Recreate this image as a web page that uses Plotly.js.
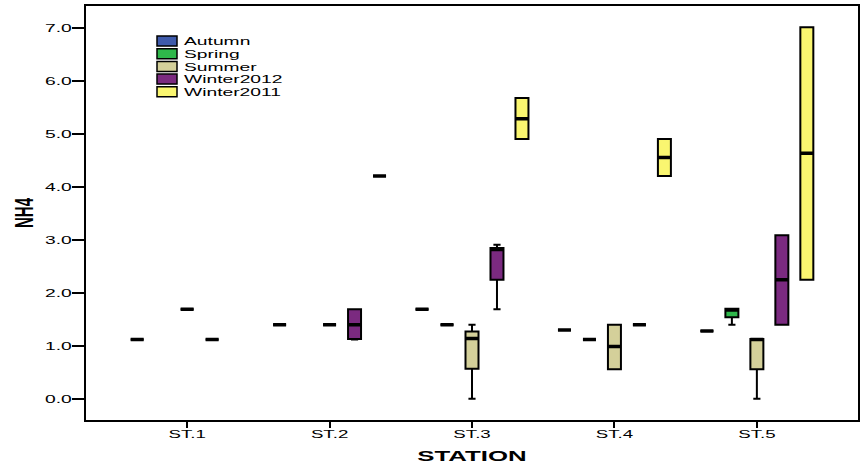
<!DOCTYPE html>
<html><head><meta charset="utf-8">
<script src="https://cdn.plot.ly/plotly-3.0.1.min.js"></script>
<style>html,body{margin:0;padding:0;background:#fff}#chart{width:862px;height:466px}</style>
</head><body><div id="chart"></div>
<script>
// Categories
var stations = ['ST.1', 'ST.2', 'ST.3', 'ST.4', 'ST.5'];
var seasons = ['Autumn', 'Spring', 'Summer', 'Winter2012', 'Winter2011'];
var colors = ['#3f5bab', '#2fb84b', '#d4d09a', '#7b2a80', '#faf670'];

// Box statistics per season, per station (null = no data)
var autumnLow = [1.12, 1.40, 1.69, 1.30, 1.28];
var autumnQ1  = [1.12, 1.40, 1.69, 1.30, 1.28];
var autumnMed = [1.12, 1.40, 1.69, 1.30, 1.28];
var autumnQ3  = [1.12, 1.40, 1.69, 1.30, 1.28];
var autumnUp  = [1.12, 1.40, 1.69, 1.30, 1.28];

var springLow = [null, null, 1.40, 1.12, 1.40];
var springQ1  = [null, null, 1.40, 1.12, 1.54];
var springMed = [null, null, 1.40, 1.12, 1.68];
var springQ3  = [null, null, 1.40, 1.12, 1.70];
var springUp  = [null, null, 1.40, 1.12, 1.70];

var summerLow = [1.69, 1.40, 0.00, 0.56, 0.00];
var summerQ1  = [1.69, 1.40, 0.57, 0.56, 0.56];
var summerMed = [1.69, 1.40, 1.14, 0.99, 1.12];
var summerQ3  = [1.69, 1.40, 1.27, 1.40, 1.13];
var summerUp  = [1.69, 1.40, 1.40, 1.40, 1.13];

var w2012Low = [1.12, 1.12, 1.69, 1.40, 1.40];
var w2012Q1  = [1.12, 1.13, 2.25, 1.40, 1.40];
var w2012Med = [1.12, 1.40, 2.82, 1.40, 2.25];
var w2012Q3  = [1.12, 1.69, 2.85, 1.40, 3.09];
var w2012Up  = [1.12, 1.69, 2.91, 1.40, 3.09];

var w2011Low = [null, 4.21, 4.91, 4.21, 2.25];
var w2011Q1  = [null, 4.21, 4.91, 4.21, 2.25];
var w2011Med = [null, 4.21, 5.29, 4.56, 4.64];
var w2011Q3  = [null, 4.21, 5.68, 4.91, 7.02];
var w2011Up  = [null, 4.21, 5.68, 4.91, 7.02];

var yTickVals = [0, 1, 2, 3, 4, 5, 6, 7];

var stats = [
  [autumnLow, autumnQ1, autumnMed, autumnQ3, autumnUp],
  [springLow, springQ1, springMed, springQ3, springUp],
  [summerLow, summerQ1, summerMed, summerQ3, summerUp],
  [w2012Low, w2012Q1, w2012Med, w2012Q3, w2012Up],
  [w2011Low, w2011Q1, w2011Med, w2011Q3, w2011Up]
];

var traces = [];
var medTraces = [];
seasons.forEach(function (name, i) {
  var s = stats[i];
  var idx = [];
  for (var k = 0; k < stations.length; k++) if (s[2][k] !== null) idx.push(k);
  function pick(a) { return idx.map(function (k) { return a[k]; }); }
  var xs = pick(stations);
  traces.push({
    type: 'box', name: name, x: xs,
    lowerfence: pick(s[0]), q1: pick(s[1]), median: pick(s[2]), q3: pick(s[3]), upperfence: pick(s[4]),
    fillcolor: colors[i], line: {color: '#000', width: 2}, whiskerwidth: 0.55,
    offsetgroup: name, boxpoints: false, hoverinfo: 'skip', showlegend: false
  });
  medTraces.push({
    type: 'box', name: name + ' median', x: xs, showlegend: false,
    lowerfence: pick(s[2]), q1: pick(s[2]), median: pick(s[2]), q3: pick(s[2]), upperfence: pick(s[2]),
    fillcolor: 'rgba(0,0,0,0)', line: {color: '#000', width: 3.5}, whiskerwidth: 0,
    offsetgroup: name, boxpoints: false, hoverinfo: 'skip'
  });
});

// plot area in pixels (for the hand-built legend placement)
var M = {l: 86, r: 4, t: 6, b: 46};
var W = 862, H = 466;
var pw = W - M.l - M.r, ph = H - M.t - M.b;
function px(x) { return (x - M.l) / pw; }
function py(y) { return 1 - (y - M.t) / ph; }

var shapes = [], annotations = [];
seasons.forEach(function (name, i) {
  var top = 36 + 12.7 * i;
  shapes.push({type: 'rect', xref: 'paper', yref: 'paper',
    x0: px(157), x1: px(177), y0: py(top + 10), y1: py(top),
    fillcolor: colors[i], line: {color: '#000', width: 1.5}});
  annotations.push({xref: 'paper', yref: 'paper', x: px(183), y: py(top + 5.3),
    xanchor: 'left', yanchor: 'middle', showarrow: false, text: name,
    font: {size: 11, color: '#000'}, borderpad: 0});
});

var layout = {
  width: W, height: H,
  margin: M,
  paper_bgcolor: '#fff', plot_bgcolor: '#fff',
  boxmode: 'group', boxgap: 0.123, boxgroupgap: 0.48,
  font: {family: 'Liberation Sans, Arial, sans-serif', color: '#000'},
  showlegend: false,
  shapes: shapes,
  annotations: annotations,
  xaxis: {
    type: 'category', categoryorder: 'array', categoryarray: stations,
    range: [-0.71, 4.71], showgrid: false, zeroline: false,
    showline: true, linecolor: '#000', linewidth: 2, mirror: true,
    ticks: 'outside', ticklen: 6, tickwidth: 2, tickcolor: '#000',
    tickfont: {size: 11}, ticklabelstandoff: -3,
    title: {text: 'STATION', font: {size: 15, weight: 'bold', family: 'Liberation Sans, Arial, sans-serif'}, standoff: 11}
  },
  yaxis: {
    range: [-0.40, 7.42], showgrid: false, zeroline: false,
    showline: true, linecolor: '#000', linewidth: 2, mirror: true,
    tickvals: yTickVals, tickformat: '.1f',
    ticks: 'outside', ticklen: 12, tickwidth: 2, tickcolor: '#000',
    tickfont: {size: 11}, ticklabelstandoff: -2,
    title: {text: 'NH4', font: {size: 25, weight: 'bold', family: 'Liberation Sans Narrow, Arial Narrow, Liberation Sans, sans-serif'}, standoff: 16}
  }
};

// the reference's lettering is horizontally widened: stretch glyphs via SVG textLength
function stretch(sel, factor, keepLeft) {
  document.querySelectorAll(sel).forEach(function (t) {
    var L = t.getComputedTextLength();
    if (keepLeft) {
      var x0 = parseFloat(t.getAttribute('x') || '0');
      t.setAttribute('x', (x0 - L / 2).toFixed(1));
      t.setAttribute('text-anchor', 'start');
    }
    t.setAttribute('textLength', (L * factor).toFixed(1));
    t.setAttribute('lengthAdjust', 'spacingAndGlyphs');
  });
}

Plotly.newPlot('chart', traces.concat(medTraces), layout, {staticPlot: true, displayModeBar: false}).then(function () {
  stretch('.ytick text', 1.75);
  stretch('.xtick text', 1.7);
  stretch('.xtitle', 1.72);
  stretch('.annotation-text', 1.75, true);
  stretch('.ytitle', 0.6);
});
</script>
</body></html>
